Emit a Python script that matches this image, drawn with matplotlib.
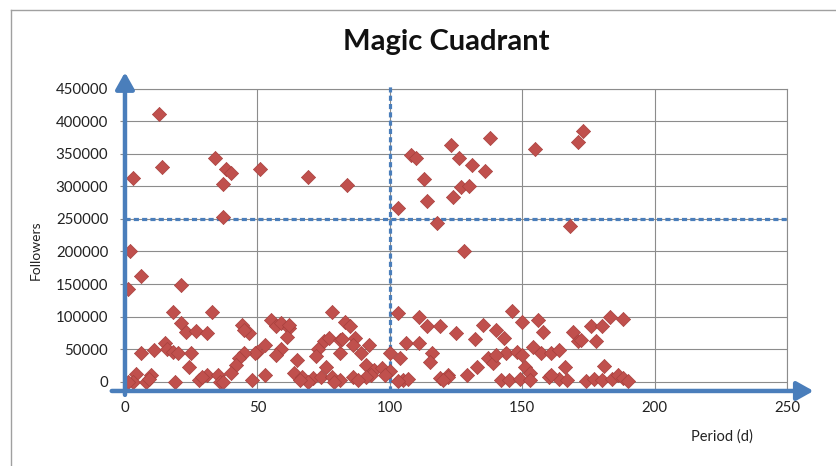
import matplotlib.pyplot as plt
from matplotlib.lines import Line2D

# period (days) and followers
period = [1, 2, 3, 6, 13, 14, 21, 34, 37, 37, 38, 40, 51, 69, 84,
          103, 108, 110, 113, 114, 118, 123, 124, 126, 127, 128, 130, 131, 136, 138,
          155, 168, 171, 173,
          18, 33, 21, 23, 27, 31, 6, 11, 15, 16, 18, 20, 25, 24, 4, 3, 8, 10, 9,
          19, 28, 31, 35, 36, 29, 1,
          78, 44, 47, 45, 55, 57, 59, 62, 61, 62, 53, 50, 49, 59, 57, 45, 43, 42,
          40, 48, 53, 37, 75, 77, 73, 72, 81, 81, 65, 64, 67, 71, 74, 76, 78, 81,
          69, 66,
          83, 85, 103, 111, 114, 119, 82, 87, 86, 92, 89, 106, 111, 100, 104, 116,
          115, 91, 94, 97, 100, 93, 98, 91, 86, 88, 79, 105, 107, 119, 122, 103,
          146, 150, 156, 158, 125, 135, 140, 143, 132, 154, 144, 148, 150, 157, 161,
          164, 137, 139, 140, 133, 151, 153, 122, 129, 142, 145, 149, 153, 160, 164,
          120,
          183, 188, 176, 180, 169, 171, 172, 178, 166, 181, 161, 167, 174, 177, 180,
          184, 186, 188, 190]
followers = [142000, 200000, 312000, 163000, 411000, 330000, 149000, 344000, 303000,
             253000, 326000, 320000, 327000, 314000, 302000,
             267000, 348000, 344000, 311000, 277000, 244000, 364000, 284000, 344000,
             299000, 200000, 300000, 332000, 323000, 374000,
             357000, 239000, 368000, 385000,
             107000, 107000, 91000, 76000, 78000, 75000, 44000, 49000, 59000, 50000,
             46000, 45000, 45000, 23000, 12000, 0, 0, 11000, 5000,
             0, 3000, 10000, 10000, 0, 8000, 0,
             107000, 87000, 75000, 80000, 95000, 85000, 90000, 82000, 69000, 87000,
             57000, 46000, 44000, 51000, 41000, 44000, 36000, 26000,
             13000, 3000, 11000, 0, 62000, 67000, 51000, 39000, 44000, 64000, 34000,
             13000, 8000, 6000, 8000, 23000, 8000, 3000,
             0, 3000,
             92000, 86000, 105000, 100000, 85000, 85000, 66000, 67000, 56000, 56000,
             44000, 59000, 59000, 45000, 36000, 44000,
             31000, 26000, 18000, 21000, 16000, 11000, 11000, 8000, 8000, 3000, 0,
             3000, 5000, 6000, 10000, 2000,
             108000, 92000, 95000, 77000, 75000, 87000, 80000, 67000, 65000, 54000,
             44000, 46000, 41000, 44000, 44000,
             49000, 36000, 29000, 41000, 23000, 23000, 13000, 8000, 11000, 3000, 3000,
             5000, 3000, 8000, 5000,
             3000,
             100000, 96000, 85000, 85000, 77000, 62000, 64000, 62000, 23000, 25000,
             11000, 3000, 1000, 5000, 3000,
             5000, 11000, 6000, 1000]

x_ticks = [0, 50, 100, 150, 200, 250]
y_ticks = [0, 50000, 100000, 150000, 200000, 250000, 300000, 350000, 400000, 450000]
period_cut = 100
followers_cut = 250000

XMIN, XMAX = 0, 250
YMIN, YMAX = -14000, 450000

BLUE = '#4A7EBB'
GRID = '#8C8C8C'
RED = '#C0504D'

plt.rcParams['font.family'] = ['Lato', 'DejaVu Sans']

fig = plt.figure(figsize=(8.36, 4.66), dpi=100)
ax = fig.add_axes([0.1495, 0.161, 0.792, 0.649])

ax.scatter(period, followers, marker='D', s=52, color=RED,
           edgecolors='#A8403D', linewidths=0.5, zorder=4)

ax.set_xlim(XMIN, XMAX)
ax.set_ylim(YMIN, YMAX)
ax.set_xticks(x_ticks)
ax.set_yticks(y_ticks)
ax.set_yticklabels([str(v) for v in y_ticks])
ax.grid(True, color=GRID, lw=0.8)
ax.set_axisbelow(True)
for s in ['left', 'bottom']:
    ax.spines[s].set_visible(False)
for s in ['top', 'right']:
    ax.spines[s].set_color(GRID)
    ax.spines[s].set_linewidth(0.8)
ax.tick_params(axis='y', length=3.5, color=GRID, pad=8.5, labelsize=10.8, labelcolor='#222222')
ax.tick_params(axis='x', length=0, pad=7.5, labelsize=10.8, labelcolor='#222222')

# quadrant lines
ax.axhline(followers_cut, color=BLUE, lw=2.3, ls=(0, (1.6, 1.0)), zorder=3)
ax.add_line(Line2D([period_cut, period_cut], [YMIN, YMAX + 5000], color=BLUE, lw=2.3,
                   ls=(0, (1.6, 1.0)), zorder=3, clip_on=False))

# arrow axes
arrow = dict(arrowstyle='-|>,head_length=0.5,head_width=0.28', color=BLUE, lw=3.2,
             mutation_scale=20, shrinkA=0, shrinkB=0)
ax.annotate('', xy=(XMIN, YMAX + 25000), xytext=(XMIN, YMIN - 6000),
            arrowprops=arrow, annotation_clip=False, zorder=5)
ax.annotate('', xy=(XMAX + 10, YMIN), xytext=(XMIN - 5, YMIN),
            arrowprops=arrow, annotation_clip=False, zorder=5)

fig.text(446 / 836, 1 - 42 / 466, 'Magic Cuadrant', ha='center', va='center',
         fontsize=21, fontweight='bold', color='#111111')
fig.text(36 / 836, 1 - 250 / 466, 'Followers', rotation=90, ha='center', va='center',
         fontsize=10, color='#222222')
fig.text(722 / 836, 1 - 437 / 466, 'Period (d)', ha='center', va='center',
         fontsize=10.5, color='#222222')

# chart frame
fig.add_artist(Line2D([11 / 836, 11 / 836], [0, 1 - 10 / 466], color='#A0A0A0',
                      lw=1, transform=fig.transFigure))
fig.add_artist(Line2D([11 / 836, 1], [1 - 10 / 466, 1 - 10 / 466], color='#A0A0A0',
                      lw=1, transform=fig.transFigure))

fig.savefig('out.png', dpi=100)
